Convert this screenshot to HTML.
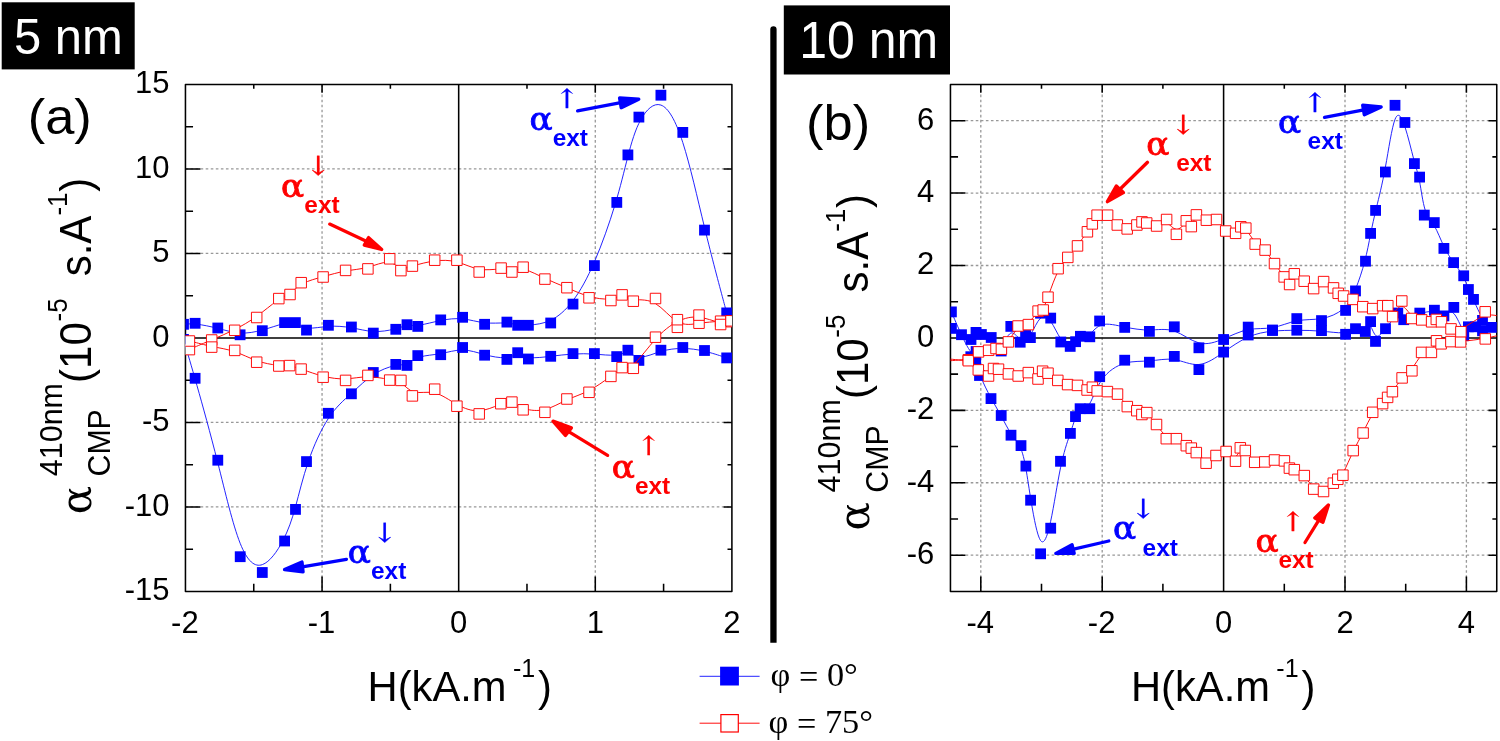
<!DOCTYPE html><html><head><meta charset="utf-8"><title>Figure</title><style>html,body{margin:0;padding:0;background:#fff}body{width:1500px;height:741px;overflow:hidden}svg{display:block}</style></head><body><svg width="1500" height="741" viewBox="0 0 1500 741"><rect width="1500" height="741" fill="#fff"/><clipPath id="cl"><rect x="185.45" y="84.45" width="546.45" height="506.95"/></clipPath><path d="M322.06 84.45V591.4M595.29 84.45V591.4M185.45 506.91H731.9M185.45 422.42H731.9M185.45 253.43H731.9M185.45 168.94H731.9" fill="none" stroke="#989898" stroke-width="1.3" stroke-dasharray="2.6 2.46"/><path d="M458.68 84.45V591.4M185.45 337.92H731.9" fill="none" stroke="#000" stroke-width="1.55"/><path d="M322.06 591.4v-15M322.06 84.45v8.3M595.29 591.4v-15M595.29 84.45v8.3M253.76 591.4v-7.6M253.76 84.45v4.4M390.37 591.4v-7.6M390.37 84.45v4.4M526.98 591.4v-7.6M526.98 84.45v4.4M663.59 591.4v-7.6M663.59 84.45v4.4M185.45 506.91h15M731.9 506.91h-8.3M185.45 422.42h15M731.9 422.42h-8.3M185.45 253.43h15M731.9 253.43h-8.3M185.45 168.94h15M731.9 168.94h-8.3M185.45 549.15h7.6M731.9 549.15h-4.4M185.45 464.66h7.6M731.9 464.66h-4.4M185.45 380.17h7.6M731.9 380.17h-4.4M185.45 295.68h7.6M731.9 295.68h-4.4M185.45 211.19h7.6M731.9 211.19h-4.4M185.45 126.7h7.6M731.9 126.7h-4.4" fill="none" stroke="#000" stroke-width="1.55"/><rect x="185.45" y="84.45" width="546.45" height="506.95" fill="none" stroke="#000" stroke-width="1.55" stroke-linejoin="round"/><g clip-path="url(#cl)"><path d="M183.5 339.4C183.5 339.4 183.5 339.4 185.43 345.88C187.37 352.37 191.23 365.33 196.95 385.47C202.67 405.6 210.23 432.9 217.75 462.63C225.27 492.37 232.73 524.53 240.15 543.25C247.57 561.97 254.93 567.23 262.33 564.62C269.73 562 277.17 551.5 282.7 540.98C288.23 530.47 291.87 519.93 295.52 506.7C299.17 493.47 302.83 477.53 308.32 461.52C313.8 445.5 321.1 429.4 328.58 418.1C336.07 406.8 343.73 400.3 351.22 393.5C358.7 386.7 366 379.6 373.4 374.7C380.8 369.8 388.3 367.1 393.92 365.92C399.53 364.73 403.27 365.07 406.93 363.6C410.6 362.13 414.2 358.87 419.82 357.08C425.43 355.3 433.07 355 440.53 353.65C448 352.3 455.3 349.9 462.62 349.98C469.93 350.07 477.27 352.63 484.65 354.62C492.03 356.6 499.47 358 504.98 357.58C510.5 357.17 514.1 354.93 517.68 354.87C521.27 354.8 524.83 356.9 530.33 357.5C535.83 358.1 543.27 357.2 550.7 356.3C558.13 355.4 565.57 354.5 572.85 354.05C580.13 353.6 587.27 353.6 594.55 354.1C601.83 354.6 609.27 355.6 614.85 355.03C620.43 354.47 624.17 352.33 627.87 352.97C631.57 353.6 635.23 357 640.73 357C646.23 357 653.57 353.6 660.88 351.45C668.2 349.3 675.5 348.4 682.77 348.45C690.03 348.5 697.27 349.5 704.58 351.23C711.9 352.97 719.3 355.43 723 356.67C726.7 357.9 726.7 357.9 726.7 357.9" fill="none" stroke="#1818ff" stroke-width="0.95"/><path d="M183.5 324.3C183.5 324.3 183.5 324.3 185.43 324.13C187.37 323.97 191.23 323.63 196.95 324.25C202.67 324.87 210.23 326.43 217.73 328.35C225.23 330.27 232.67 332.53 240.08 332.98C247.5 333.43 254.9 332.07 262.32 330.03C269.73 328 277.17 325.3 282.68 323.95C288.2 322.6 291.8 322.6 295.45 323.85C299.1 325.1 302.8 327.6 308.3 328.05C313.8 328.5 321.1 326.9 328.58 326.38C336.07 325.87 343.73 326.43 351.22 327.73C358.7 329.03 366 331.07 373.4 331.45C380.8 331.83 388.3 330.57 393.92 329.17C399.53 327.77 403.27 326.23 406.93 325.75C410.6 325.27 414.2 325.83 419.82 325.03C425.43 324.23 433.07 322.07 440.53 320.55C448 319.03 455.3 318.17 462.62 318.9C469.93 319.63 477.27 321.97 484.65 322.77C492.03 323.57 499.47 322.83 504.98 323C510.5 323.17 514.1 324.23 517.68 324.77C521.27 325.3 524.83 325.3 530.33 324.92C535.83 324.53 543.27 323.77 550.7 320.23C558.13 316.7 565.57 310.4 572.85 300.83C580.13 291.27 587.27 278.43 594.57 261.48C601.87 244.53 609.33 223.47 614.92 205.02C620.5 186.57 624.2 170.73 627.88 156.52C631.57 142.3 635.23 129.7 640.73 119.75C646.23 109.8 653.57 102.5 660.88 105.05C668.2 107.6 675.5 120 682.77 142.48C690.03 164.97 697.27 197.53 704.58 227.62C711.9 257.7 719.3 285.3 723 299.1C726.7 312.9 726.7 312.9 726.7 312.9" fill="none" stroke="#1818ff" stroke-width="0.95"/><rect x="178.1" y="334" width="10.8" height="10.8" fill="#0000ff"/><rect x="189.7" y="372.9" width="10.8" height="10.8" fill="#0000ff"/><rect x="212.4" y="454.8" width="10.8" height="10.8" fill="#0000ff"/><rect x="234.8" y="551.3" width="10.8" height="10.8" fill="#0000ff"/><rect x="256.9" y="567.1" width="10.8" height="10.8" fill="#0000ff"/><rect x="279.2" y="535.6" width="10.8" height="10.8" fill="#0000ff"/><rect x="290.1" y="504" width="10.8" height="10.8" fill="#0000ff"/><rect x="301.1" y="456.2" width="10.8" height="10.8" fill="#0000ff"/><rect x="323" y="407.9" width="10.8" height="10.8" fill="#0000ff"/><rect x="346" y="388.4" width="10.8" height="10.8" fill="#0000ff"/><rect x="367.9" y="367.1" width="10.8" height="10.8" fill="#0000ff"/><rect x="390.4" y="359" width="10.8" height="10.8" fill="#0000ff"/><rect x="401.6" y="360" width="10.8" height="10.8" fill="#0000ff"/><rect x="412.4" y="350.2" width="10.8" height="10.8" fill="#0000ff"/><rect x="435.3" y="349.3" width="10.8" height="10.8" fill="#0000ff"/><rect x="457.2" y="342.1" width="10.8" height="10.8" fill="#0000ff"/><rect x="479.2" y="349.8" width="10.8" height="10.8" fill="#0000ff"/><rect x="501.5" y="354" width="10.8" height="10.8" fill="#0000ff"/><rect x="512.3" y="347.3" width="10.8" height="10.8" fill="#0000ff"/><rect x="523" y="353.6" width="10.8" height="10.8" fill="#0000ff"/><rect x="545.3" y="350.9" width="10.8" height="10.8" fill="#0000ff"/><rect x="567.6" y="348.2" width="10.8" height="10.8" fill="#0000ff"/><rect x="589" y="348.2" width="10.8" height="10.8" fill="#0000ff"/><rect x="611.3" y="351.2" width="10.8" height="10.8" fill="#0000ff"/><rect x="622.5" y="344.8" width="10.8" height="10.8" fill="#0000ff"/><rect x="633.5" y="355" width="10.8" height="10.8" fill="#0000ff"/><rect x="655.5" y="344.8" width="10.8" height="10.8" fill="#0000ff"/><rect x="677.4" y="342.1" width="10.8" height="10.8" fill="#0000ff"/><rect x="699.1" y="345.1" width="10.8" height="10.8" fill="#0000ff"/><rect x="721.3" y="352.5" width="10.8" height="10.8" fill="#0000ff"/><rect x="178.1" y="318.9" width="10.8" height="10.8" fill="#0000ff"/><rect x="189.7" y="317.9" width="10.8" height="10.8" fill="#0000ff"/><rect x="212.4" y="322.6" width="10.8" height="10.8" fill="#0000ff"/><rect x="234.7" y="329.4" width="10.8" height="10.8" fill="#0000ff"/><rect x="256.9" y="325.3" width="10.8" height="10.8" fill="#0000ff"/><rect x="279.2" y="317.2" width="10.8" height="10.8" fill="#0000ff"/><rect x="290" y="317.2" width="10.8" height="10.8" fill="#0000ff"/><rect x="301.1" y="324.7" width="10.8" height="10.8" fill="#0000ff"/><rect x="323" y="319.9" width="10.8" height="10.8" fill="#0000ff"/><rect x="346" y="321.6" width="10.8" height="10.8" fill="#0000ff"/><rect x="367.9" y="327.7" width="10.8" height="10.8" fill="#0000ff"/><rect x="390.4" y="323.9" width="10.8" height="10.8" fill="#0000ff"/><rect x="401.6" y="319.3" width="10.8" height="10.8" fill="#0000ff"/><rect x="412.4" y="321" width="10.8" height="10.8" fill="#0000ff"/><rect x="435.3" y="314.5" width="10.8" height="10.8" fill="#0000ff"/><rect x="457.2" y="311.9" width="10.8" height="10.8" fill="#0000ff"/><rect x="479.2" y="318.9" width="10.8" height="10.8" fill="#0000ff"/><rect x="501.5" y="316.7" width="10.8" height="10.8" fill="#0000ff"/><rect x="512.3" y="319.9" width="10.8" height="10.8" fill="#0000ff"/><rect x="523" y="319.9" width="10.8" height="10.8" fill="#0000ff"/><rect x="545.3" y="317.6" width="10.8" height="10.8" fill="#0000ff"/><rect x="567.6" y="298.7" width="10.8" height="10.8" fill="#0000ff"/><rect x="589" y="260.2" width="10.8" height="10.8" fill="#0000ff"/><rect x="611.4" y="197" width="10.8" height="10.8" fill="#0000ff"/><rect x="622.5" y="149.5" width="10.8" height="10.8" fill="#0000ff"/><rect x="633.5" y="111.7" width="10.8" height="10.8" fill="#0000ff"/><rect x="655.5" y="89.8" width="10.8" height="10.8" fill="#0000ff"/><rect x="677.4" y="127" width="10.8" height="10.8" fill="#0000ff"/><rect x="699.1" y="224.7" width="10.8" height="10.8" fill="#0000ff"/><rect x="721.3" y="307.5" width="10.8" height="10.8" fill="#0000ff"/></g><g clip-path="url(#cl)"><path d="M189.4 349.4C189.4 349.4 189.4 349.4 193.12 347.8C196.83 346.2 204.27 343 211.82 339.78C219.37 336.57 227.03 333.33 234.53 329.58C242.03 325.83 249.37 321.57 256.72 316.28C264.07 311 271.43 304.7 276.98 300.87C282.53 297.03 286.27 295.67 290 293.02C293.73 290.37 297.47 286.43 302.98 283.52C308.5 280.6 315.8 278.7 323.2 276.65C330.6 274.6 338.1 272.4 345.57 271.05C353.03 269.7 360.47 269.2 367.82 267.27C375.17 265.33 382.43 261.97 387.93 262.25C393.43 262.53 397.17 266.47 400.95 267.68C404.73 268.9 408.57 267.4 414.2 265.67C419.83 263.93 427.27 261.97 434.68 260.98C442.1 260 449.5 260 456.92 261.97C464.33 263.93 471.77 267.87 479.13 269.18C486.5 270.5 493.8 269.2 499.25 269.2C504.7 269.2 508.3 270.5 511.97 270.35C515.63 270.2 519.37 268.6 524.87 269.78C530.37 270.97 537.63 274.93 544.93 278.35C552.23 281.77 559.57 284.63 566.92 287.75C574.27 290.87 581.63 294.23 588.97 296.37C596.3 298.5 603.6 299.4 609.12 298.92C614.63 298.43 618.37 296.57 622.1 296.68C625.83 296.8 629.57 298.9 635.13 299.5C640.7 300.1 648.1 299.2 655.45 303.55C662.8 307.9 670.1 317.5 677.35 321.62C684.6 325.73 691.8 324.37 699 323.35C706.2 322.33 713.4 321.67 718.8 321.42C724.2 321.17 727.8 321.33 729.6 321.42C731.4 321.5 731.4 321.5 731.4 321.5" fill="none" stroke="#ff0000" stroke-width="0.95"/><path d="M189.4 340.8C189.4 340.8 189.4 340.8 193.12 341.82C196.83 342.83 204.27 344.87 211.82 346.43C219.37 348 227.03 349.1 234.53 351.62C242.03 354.13 249.37 358.07 256.72 360.67C264.07 363.27 271.43 364.53 276.92 365.1C282.4 365.67 286 365.53 289.72 366.05C293.43 366.57 297.27 367.73 302.85 369.67C308.43 371.6 315.77 374.3 323.18 376.18C330.6 378.07 338.1 379.13 345.57 378.83C353.03 378.53 360.47 376.87 367.82 376.82C375.17 376.77 382.43 378.33 387.93 379.17C393.43 380 397.17 380.1 400.95 382.73C404.73 385.37 408.57 390.53 414.2 392C419.83 393.47 427.27 391.23 434.68 392.95C442.1 394.67 449.5 400.33 456.92 404.45C464.33 408.57 471.77 411.13 479.08 410.72C486.4 410.3 493.6 406.9 499.05 404.93C504.5 402.97 508.2 402.43 511.92 403.45C515.63 404.47 519.37 407.03 524.87 408.73C530.37 410.43 537.63 411.27 544.93 409.47C552.23 407.67 559.57 403.23 566.92 399.9C574.27 396.57 581.63 394.33 588.97 390.57C596.3 386.8 603.6 381.5 609.12 377.38C614.63 373.27 618.37 370.33 622.1 368.98C625.83 367.63 629.57 367.87 635.13 362.8C640.7 357.73 648.1 347.37 655.45 339.27C662.8 331.17 670.1 325.33 677.35 321.65C684.6 317.97 691.8 316.43 699 317.23C706.2 318.03 713.4 321.17 718.73 322.12C724.07 323.07 727.53 321.83 729.27 321.22C731 320.6 731 320.6 731 320.6" fill="none" stroke="#ff0000" stroke-width="0.95"/><rect x="184.15" y="344.35" width="10.5" height="10.5" fill="#fff" stroke="#ff0000" stroke-width="0.95" stroke-linejoin="round"/><rect x="206.45" y="334.75" width="10.5" height="10.5" fill="#fff" stroke="#ff0000" stroke-width="0.95" stroke-linejoin="round"/><rect x="229.45" y="325.05" width="10.5" height="10.5" fill="#fff" stroke="#ff0000" stroke-width="0.95" stroke-linejoin="round"/><rect x="251.45" y="312.25" width="10.5" height="10.5" fill="#fff" stroke="#ff0000" stroke-width="0.95" stroke-linejoin="round"/><rect x="273.55" y="293.35" width="10.5" height="10.5" fill="#fff" stroke="#ff0000" stroke-width="0.95" stroke-linejoin="round"/><rect x="284.75" y="289.25" width="10.5" height="10.5" fill="#fff" stroke="#ff0000" stroke-width="0.95" stroke-linejoin="round"/><rect x="295.95" y="277.45" width="10.5" height="10.5" fill="#fff" stroke="#ff0000" stroke-width="0.95" stroke-linejoin="round"/><rect x="317.85" y="271.75" width="10.5" height="10.5" fill="#fff" stroke="#ff0000" stroke-width="0.95" stroke-linejoin="round"/><rect x="340.35" y="265.15" width="10.5" height="10.5" fill="#fff" stroke="#ff0000" stroke-width="0.95" stroke-linejoin="round"/><rect x="362.65" y="263.65" width="10.5" height="10.5" fill="#fff" stroke="#ff0000" stroke-width="0.95" stroke-linejoin="round"/><rect x="384.45" y="253.55" width="10.5" height="10.5" fill="#fff" stroke="#ff0000" stroke-width="0.95" stroke-linejoin="round"/><rect x="395.65" y="265.35" width="10.5" height="10.5" fill="#fff" stroke="#ff0000" stroke-width="0.95" stroke-linejoin="round"/><rect x="407.15" y="260.85" width="10.5" height="10.5" fill="#fff" stroke="#ff0000" stroke-width="0.95" stroke-linejoin="round"/><rect x="429.45" y="254.95" width="10.5" height="10.5" fill="#fff" stroke="#ff0000" stroke-width="0.95" stroke-linejoin="round"/><rect x="451.65" y="254.95" width="10.5" height="10.5" fill="#fff" stroke="#ff0000" stroke-width="0.95" stroke-linejoin="round"/><rect x="473.95" y="266.75" width="10.5" height="10.5" fill="#fff" stroke="#ff0000" stroke-width="0.95" stroke-linejoin="round"/><rect x="495.85" y="262.85" width="10.5" height="10.5" fill="#fff" stroke="#ff0000" stroke-width="0.95" stroke-linejoin="round"/><rect x="506.65" y="266.75" width="10.5" height="10.5" fill="#fff" stroke="#ff0000" stroke-width="0.95" stroke-linejoin="round"/><rect x="517.85" y="261.95" width="10.5" height="10.5" fill="#fff" stroke="#ff0000" stroke-width="0.95" stroke-linejoin="round"/><rect x="539.65" y="273.85" width="10.5" height="10.5" fill="#fff" stroke="#ff0000" stroke-width="0.95" stroke-linejoin="round"/><rect x="561.65" y="282.45" width="10.5" height="10.5" fill="#fff" stroke="#ff0000" stroke-width="0.95" stroke-linejoin="round"/><rect x="583.75" y="292.55" width="10.5" height="10.5" fill="#fff" stroke="#ff0000" stroke-width="0.95" stroke-linejoin="round"/><rect x="605.65" y="295.25" width="10.5" height="10.5" fill="#fff" stroke="#ff0000" stroke-width="0.95" stroke-linejoin="round"/><rect x="616.85" y="289.65" width="10.5" height="10.5" fill="#fff" stroke="#ff0000" stroke-width="0.95" stroke-linejoin="round"/><rect x="628.05" y="295.95" width="10.5" height="10.5" fill="#fff" stroke="#ff0000" stroke-width="0.95" stroke-linejoin="round"/><rect x="650.25" y="293.25" width="10.5" height="10.5" fill="#fff" stroke="#ff0000" stroke-width="0.95" stroke-linejoin="round"/><rect x="672.15" y="322.05" width="10.5" height="10.5" fill="#fff" stroke="#ff0000" stroke-width="0.95" stroke-linejoin="round"/><rect x="693.75" y="317.95" width="10.5" height="10.5" fill="#fff" stroke="#ff0000" stroke-width="0.95" stroke-linejoin="round"/><rect x="715.35" y="315.95" width="10.5" height="10.5" fill="#fff" stroke="#ff0000" stroke-width="0.95" stroke-linejoin="round"/><rect x="726.15" y="316.45" width="10.5" height="10.5" fill="#fff" stroke="#ff0000" stroke-width="0.95" stroke-linejoin="round"/><rect x="184.15" y="335.75" width="10.5" height="10.5" fill="#fff" stroke="#ff0000" stroke-width="0.95" stroke-linejoin="round"/><rect x="206.45" y="341.85" width="10.5" height="10.5" fill="#fff" stroke="#ff0000" stroke-width="0.95" stroke-linejoin="round"/><rect x="229.45" y="345.15" width="10.5" height="10.5" fill="#fff" stroke="#ff0000" stroke-width="0.95" stroke-linejoin="round"/><rect x="251.45" y="356.95" width="10.5" height="10.5" fill="#fff" stroke="#ff0000" stroke-width="0.95" stroke-linejoin="round"/><rect x="273.55" y="360.75" width="10.5" height="10.5" fill="#fff" stroke="#ff0000" stroke-width="0.95" stroke-linejoin="round"/><rect x="284.35" y="360.35" width="10.5" height="10.5" fill="#fff" stroke="#ff0000" stroke-width="0.95" stroke-linejoin="round"/><rect x="295.85" y="363.85" width="10.5" height="10.5" fill="#fff" stroke="#ff0000" stroke-width="0.95" stroke-linejoin="round"/><rect x="317.85" y="371.95" width="10.5" height="10.5" fill="#fff" stroke="#ff0000" stroke-width="0.95" stroke-linejoin="round"/><rect x="340.35" y="375.15" width="10.5" height="10.5" fill="#fff" stroke="#ff0000" stroke-width="0.95" stroke-linejoin="round"/><rect x="362.65" y="370.15" width="10.5" height="10.5" fill="#fff" stroke="#ff0000" stroke-width="0.95" stroke-linejoin="round"/><rect x="384.45" y="374.85" width="10.5" height="10.5" fill="#fff" stroke="#ff0000" stroke-width="0.95" stroke-linejoin="round"/><rect x="395.65" y="375.15" width="10.5" height="10.5" fill="#fff" stroke="#ff0000" stroke-width="0.95" stroke-linejoin="round"/><rect x="407.15" y="390.65" width="10.5" height="10.5" fill="#fff" stroke="#ff0000" stroke-width="0.95" stroke-linejoin="round"/><rect x="429.45" y="383.95" width="10.5" height="10.5" fill="#fff" stroke="#ff0000" stroke-width="0.95" stroke-linejoin="round"/><rect x="451.65" y="400.95" width="10.5" height="10.5" fill="#fff" stroke="#ff0000" stroke-width="0.95" stroke-linejoin="round"/><rect x="473.95" y="408.65" width="10.5" height="10.5" fill="#fff" stroke="#ff0000" stroke-width="0.95" stroke-linejoin="round"/><rect x="495.55" y="398.45" width="10.5" height="10.5" fill="#fff" stroke="#ff0000" stroke-width="0.95" stroke-linejoin="round"/><rect x="506.65" y="396.85" width="10.5" height="10.5" fill="#fff" stroke="#ff0000" stroke-width="0.95" stroke-linejoin="round"/><rect x="517.85" y="404.55" width="10.5" height="10.5" fill="#fff" stroke="#ff0000" stroke-width="0.95" stroke-linejoin="round"/><rect x="539.65" y="407.05" width="10.5" height="10.5" fill="#fff" stroke="#ff0000" stroke-width="0.95" stroke-linejoin="round"/><rect x="561.65" y="393.75" width="10.5" height="10.5" fill="#fff" stroke="#ff0000" stroke-width="0.95" stroke-linejoin="round"/><rect x="583.75" y="387.05" width="10.5" height="10.5" fill="#fff" stroke="#ff0000" stroke-width="0.95" stroke-linejoin="round"/><rect x="605.65" y="371.15" width="10.5" height="10.5" fill="#fff" stroke="#ff0000" stroke-width="0.95" stroke-linejoin="round"/><rect x="616.85" y="362.35" width="10.5" height="10.5" fill="#fff" stroke="#ff0000" stroke-width="0.95" stroke-linejoin="round"/><rect x="628.05" y="363.05" width="10.5" height="10.5" fill="#fff" stroke="#ff0000" stroke-width="0.95" stroke-linejoin="round"/><rect x="650.25" y="331.95" width="10.5" height="10.5" fill="#fff" stroke="#ff0000" stroke-width="0.95" stroke-linejoin="round"/><rect x="672.15" y="314.45" width="10.5" height="10.5" fill="#fff" stroke="#ff0000" stroke-width="0.95" stroke-linejoin="round"/><rect x="693.75" y="309.85" width="10.5" height="10.5" fill="#fff" stroke="#ff0000" stroke-width="0.95" stroke-linejoin="round"/><rect x="715.35" y="319.25" width="10.5" height="10.5" fill="#fff" stroke="#ff0000" stroke-width="0.95" stroke-linejoin="round"/><rect x="725.75" y="315.55" width="10.5" height="10.5" fill="#fff" stroke="#ff0000" stroke-width="0.95" stroke-linejoin="round"/></g><clipPath id="cr"><rect x="950.45" y="84.45" width="546.3" height="506.95"/></clipPath><path d="M980.8 84.45V591.4M1102.2 84.45V591.4M1345 84.45V591.4M1466.4 84.45V591.4M950.45 555.19H1496.75M950.45 482.77H1496.75M950.45 410.35H1496.75M950.45 265.5H1496.75M950.45 193.08H1496.75M950.45 120.66H1496.75" fill="none" stroke="#989898" stroke-width="1.3" stroke-dasharray="2.6 2.46"/><path d="M1223.6 84.45V591.4M950.45 337.93H1496.75" fill="none" stroke="#000" stroke-width="1.55"/><path d="M980.8 591.4v-15M980.8 84.45v8.3M1102.2 591.4v-15M1102.2 84.45v8.3M1345 591.4v-15M1345 84.45v8.3M1466.4 591.4v-15M1466.4 84.45v8.3M1041.5 591.4v-7.6M1041.5 84.45v4.4M1162.9 591.4v-7.6M1162.9 84.45v4.4M1284.3 591.4v-7.6M1284.3 84.45v4.4M1405.7 591.4v-7.6M1405.7 84.45v4.4M950.45 555.19h15M1496.75 555.19h-8.3M950.45 482.77h15M1496.75 482.77h-8.3M950.45 410.35h15M1496.75 410.35h-8.3M950.45 265.5h15M1496.75 265.5h-8.3M950.45 193.08h15M1496.75 193.08h-8.3M950.45 120.66h15M1496.75 120.66h-8.3M950.45 518.98h7.6M1496.75 518.98h-4.4M950.45 446.56h7.6M1496.75 446.56h-4.4M950.45 374.14h7.6M1496.75 374.14h-4.4M950.45 301.71h7.6M1496.75 301.71h-4.4M950.45 229.29h7.6M1496.75 229.29h-4.4M950.45 156.87h7.6M1496.75 156.87h-4.4" fill="none" stroke="#000" stroke-width="1.55"/><rect x="950.45" y="84.45" width="546.3" height="506.95" fill="none" stroke="#000" stroke-width="1.55" stroke-linejoin="round"/><g clip-path="url(#cr)"><path d="M951.4 311.9C951.4 311.9 951.4 311.9 954.63 319.37C957.87 326.83 964.33 341.77 968.45 348.37C972.57 354.97 974.33 353.23 975.15 353.82C975.97 354.4 975.83 357.3 976.4 361.3C976.97 365.3 978.23 370.4 980.78 376.8C983.33 383.2 987.17 390.9 990.78 397.57C994.4 404.23 997.8 409.87 1001.13 415.97C1004.47 422.07 1007.73 428.63 1011.03 433.65C1014.33 438.67 1017.67 442.13 1020.15 447.28C1022.63 452.43 1024.27 459.27 1025.87 468.37C1027.47 477.47 1029.03 488.83 1031.48 503.45C1033.93 518.07 1037.27 535.93 1040.62 540.6C1043.97 545.27 1047.33 536.73 1050.65 521.32C1053.97 505.9 1057.23 483.6 1060.52 467.8C1063.8 452 1067.1 442.7 1069.6 435.25C1072.1 427.8 1073.8 422.2 1075.42 418.08C1077.03 413.97 1078.57 411.33 1080.95 410.02C1083.33 408.7 1086.57 408.7 1089.83 403.37C1093.1 398.03 1096.4 387.37 1102.22 379.28C1108.03 371.2 1116.37 365.7 1124.65 363.28C1132.93 360.87 1141.17 361.53 1149.43 360.9C1157.7 360.27 1166 358.33 1174.25 359.57C1182.5 360.8 1190.7 365.2 1198.92 364.48C1207.13 363.77 1215.37 357.93 1223.58 352.17C1231.8 346.4 1240 340.7 1248.15 337.1C1256.3 333.5 1264.4 332 1272.5 331.2C1280.6 330.4 1288.7 330.3 1296.87 330.32C1305.03 330.33 1313.27 330.47 1321.4 331.15C1329.53 331.83 1337.57 333.07 1343.23 332.75C1348.9 332.43 1352.2 330.57 1355.48 330.1C1358.77 329.63 1362.03 330.57 1364.55 329.38C1367.07 328.2 1368.83 324.9 1370.53 326.55C1372.23 328.2 1373.87 334.8 1376.35 335.98C1378.83 337.17 1382.17 332.93 1385.88 328.2C1389.6 323.47 1393.7 318.23 1396.73 316.73C1399.77 315.23 1401.73 317.47 1405.4 317.48C1409.07 317.5 1414.43 315.3 1419.55 313.72C1424.67 312.13 1429.53 311.17 1433.55 311.63C1437.57 312.1 1440.73 314 1443.97 313.53C1447.2 313.07 1450.5 310.23 1453.82 313.53C1457.13 316.83 1460.47 326.27 1462.9 329.5C1465.33 332.73 1466.87 329.77 1468.82 328.28C1470.77 326.8 1473.13 326.8 1475.48 327.47C1477.83 328.13 1480.17 329.47 1481.33 330.13C1482.5 330.8 1482.5 330.8 1482.5 330.8" fill="none" stroke="#1818ff" stroke-width="0.95"/><path d="M951.4 328.4C951.4 328.4 951.4 328.4 953.08 329.45C954.77 330.5 958.13 332.6 961.4 334.45C964.67 336.3 967.83 337.9 970.25 337.52C972.67 337.13 974.33 334.77 976.07 333.93C977.8 333.1 979.6 333.8 982.13 334.65C984.67 335.5 987.93 336.5 991.23 339.25C994.53 342 997.87 346.5 1001.13 344.65C1004.4 342.8 1007.6 334.6 1010.77 333.13C1013.93 331.67 1017.07 336.93 1019.53 338.45C1022 339.97 1023.8 337.73 1025.5 336.97C1027.2 336.2 1028.8 336.9 1031.28 333.18C1033.77 329.47 1037.13 321.33 1040.52 318.08C1043.9 314.83 1047.3 316.47 1050.68 321.27C1054.07 326.07 1057.43 334.03 1060.68 338.75C1063.93 343.47 1067.07 344.93 1069.53 344.88C1072 344.83 1073.8 343.27 1075.5 341.58C1077.2 339.9 1078.8 338.1 1081.17 337.28C1083.53 336.47 1086.67 336.63 1089.87 334.08C1093.07 331.53 1096.33 326.27 1102.15 324.7C1107.97 323.13 1116.33 325.27 1124.63 327C1132.93 328.73 1141.17 330.07 1149.43 329.97C1157.7 329.87 1166 328.33 1174.25 331.07C1182.5 333.8 1190.7 340.8 1198.92 342.92C1207.13 345.03 1215.37 342.27 1223.58 338.82C1231.8 335.37 1240 331.23 1248.15 329.65C1256.3 328.07 1264.4 329.03 1272.5 327.62C1280.6 326.2 1288.7 322.4 1296.87 320.83C1305.03 319.27 1313.27 319.93 1321.4 318.57C1329.53 317.2 1337.57 313.8 1343.23 308.85C1348.9 303.9 1352.2 297.4 1355.52 289.2C1358.83 281 1362.17 271.1 1364.68 261.52C1367.2 251.93 1368.9 242.67 1370.58 234.2C1372.27 225.73 1373.93 218.07 1376.4 207.83C1378.87 197.6 1382.13 184.8 1385.37 167.28C1388.6 149.77 1391.8 127.53 1395.05 119.28C1398.3 111.03 1401.6 116.77 1404.83 126.48C1408.07 136.2 1411.23 149.9 1413.68 159C1416.13 168.1 1417.87 172.6 1419.52 181.18C1421.17 189.77 1422.73 202.43 1425.18 210.02C1427.63 217.6 1430.97 220.1 1434.23 225.65C1437.5 231.2 1440.7 239.8 1443.92 246.47C1447.13 253.13 1450.37 257.87 1453.67 262.43C1456.97 267 1460.33 271.4 1462.8 275.88C1465.27 280.37 1466.83 284.93 1468.47 288.87C1470.1 292.8 1471.8 296.1 1474.15 301.25C1476.5 306.4 1479.5 313.4 1482.52 318.07C1485.53 322.73 1488.57 325.07 1490.08 326.23C1491.6 327.4 1491.6 327.4 1491.6 327.4" fill="none" stroke="#1818ff" stroke-width="0.95"/><rect x="946" y="306.5" width="10.8" height="10.8" fill="#0000ff"/><rect x="965.4" y="351.3" width="10.8" height="10.8" fill="#0000ff"/><rect x="970.7" y="346.1" width="10.8" height="10.8" fill="#0000ff"/><rect x="970.3" y="354.8" width="10.8" height="10.8" fill="#0000ff"/><rect x="974.1" y="370.1" width="10.8" height="10.8" fill="#0000ff"/><rect x="985.6" y="393.2" width="10.8" height="10.8" fill="#0000ff"/><rect x="995.8" y="410.1" width="10.8" height="10.8" fill="#0000ff"/><rect x="1005.6" y="429.8" width="10.8" height="10.8" fill="#0000ff"/><rect x="1015.6" y="440.2" width="10.8" height="10.8" fill="#0000ff"/><rect x="1020.5" y="460.7" width="10.8" height="10.8" fill="#0000ff"/><rect x="1025.2" y="494.8" width="10.8" height="10.8" fill="#0000ff"/><rect x="1035.2" y="548.4" width="10.8" height="10.8" fill="#0000ff"/><rect x="1045.3" y="522.8" width="10.8" height="10.8" fill="#0000ff"/><rect x="1055.1" y="455.9" width="10.8" height="10.8" fill="#0000ff"/><rect x="1065" y="428" width="10.8" height="10.8" fill="#0000ff"/><rect x="1070.1" y="411.2" width="10.8" height="10.8" fill="#0000ff"/><rect x="1074.7" y="403.3" width="10.8" height="10.8" fill="#0000ff"/><rect x="1084.4" y="403.3" width="10.8" height="10.8" fill="#0000ff"/><rect x="1094.3" y="371.3" width="10.8" height="10.8" fill="#0000ff"/><rect x="1119.3" y="354.8" width="10.8" height="10.8" fill="#0000ff"/><rect x="1144" y="356.8" width="10.8" height="10.8" fill="#0000ff"/><rect x="1168.9" y="351" width="10.8" height="10.8" fill="#0000ff"/><rect x="1193.5" y="364.2" width="10.8" height="10.8" fill="#0000ff"/><rect x="1218.2" y="346.7" width="10.8" height="10.8" fill="#0000ff"/><rect x="1242.8" y="329.6" width="10.8" height="10.8" fill="#0000ff"/><rect x="1267.1" y="325.1" width="10.8" height="10.8" fill="#0000ff"/><rect x="1291.4" y="324.8" width="10.8" height="10.8" fill="#0000ff"/><rect x="1316.1" y="325.2" width="10.8" height="10.8" fill="#0000ff"/><rect x="1340.2" y="328.9" width="10.8" height="10.8" fill="#0000ff"/><rect x="1350.1" y="323.3" width="10.8" height="10.8" fill="#0000ff"/><rect x="1359.9" y="326.1" width="10.8" height="10.8" fill="#0000ff"/><rect x="1365.2" y="316.2" width="10.8" height="10.8" fill="#0000ff"/><rect x="1370.1" y="336" width="10.8" height="10.8" fill="#0000ff"/><rect x="1380.1" y="323.3" width="10.8" height="10.8" fill="#0000ff"/><rect x="1392.4" y="307.6" width="10.8" height="10.8" fill="#0000ff"/><rect x="1398.3" y="314.3" width="10.8" height="10.8" fill="#0000ff"/><rect x="1414.4" y="307.7" width="10.8" height="10.8" fill="#0000ff"/><rect x="1429" y="304.8" width="10.8" height="10.8" fill="#0000ff"/><rect x="1438.5" y="310.5" width="10.8" height="10.8" fill="#0000ff"/><rect x="1448.4" y="302" width="10.8" height="10.8" fill="#0000ff"/><rect x="1458.4" y="330.3" width="10.8" height="10.8" fill="#0000ff"/><rect x="1463" y="321.4" width="10.8" height="10.8" fill="#0000ff"/><rect x="1470.1" y="321.4" width="10.8" height="10.8" fill="#0000ff"/><rect x="1477.1" y="325.4" width="10.8" height="10.8" fill="#0000ff"/><rect x="946" y="323" width="10.8" height="10.8" fill="#0000ff"/><rect x="956.1" y="329.3" width="10.8" height="10.8" fill="#0000ff"/><rect x="965.6" y="334.1" width="10.8" height="10.8" fill="#0000ff"/><rect x="970.6" y="327" width="10.8" height="10.8" fill="#0000ff"/><rect x="976" y="329.1" width="10.8" height="10.8" fill="#0000ff"/><rect x="985.8" y="332.1" width="10.8" height="10.8" fill="#0000ff"/><rect x="995.8" y="345.6" width="10.8" height="10.8" fill="#0000ff"/><rect x="1005.4" y="321" width="10.8" height="10.8" fill="#0000ff"/><rect x="1014.8" y="336.8" width="10.8" height="10.8" fill="#0000ff"/><rect x="1020.2" y="330.1" width="10.8" height="10.8" fill="#0000ff"/><rect x="1025" y="332.2" width="10.8" height="10.8" fill="#0000ff"/><rect x="1035.1" y="307.8" width="10.8" height="10.8" fill="#0000ff"/><rect x="1045.3" y="312.7" width="10.8" height="10.8" fill="#0000ff"/><rect x="1055.4" y="336.6" width="10.8" height="10.8" fill="#0000ff"/><rect x="1064.8" y="341" width="10.8" height="10.8" fill="#0000ff"/><rect x="1070.2" y="336.3" width="10.8" height="10.8" fill="#0000ff"/><rect x="1075" y="330.9" width="10.8" height="10.8" fill="#0000ff"/><rect x="1084.4" y="331.4" width="10.8" height="10.8" fill="#0000ff"/><rect x="1094.2" y="315.6" width="10.8" height="10.8" fill="#0000ff"/><rect x="1119.3" y="322" width="10.8" height="10.8" fill="#0000ff"/><rect x="1144" y="326" width="10.8" height="10.8" fill="#0000ff"/><rect x="1168.9" y="321.4" width="10.8" height="10.8" fill="#0000ff"/><rect x="1193.5" y="342.4" width="10.8" height="10.8" fill="#0000ff"/><rect x="1218.2" y="334.1" width="10.8" height="10.8" fill="#0000ff"/><rect x="1242.8" y="321.7" width="10.8" height="10.8" fill="#0000ff"/><rect x="1267.1" y="324.6" width="10.8" height="10.8" fill="#0000ff"/><rect x="1291.4" y="313.2" width="10.8" height="10.8" fill="#0000ff"/><rect x="1316.1" y="315.2" width="10.8" height="10.8" fill="#0000ff"/><rect x="1340.2" y="305" width="10.8" height="10.8" fill="#0000ff"/><rect x="1350.1" y="285.5" width="10.8" height="10.8" fill="#0000ff"/><rect x="1360.1" y="255.8" width="10.8" height="10.8" fill="#0000ff"/><rect x="1365.2" y="228" width="10.8" height="10.8" fill="#0000ff"/><rect x="1370.2" y="205" width="10.8" height="10.8" fill="#0000ff"/><rect x="1380" y="166.6" width="10.8" height="10.8" fill="#0000ff"/><rect x="1389.6" y="99.9" width="10.8" height="10.8" fill="#0000ff"/><rect x="1399.5" y="117.1" width="10.8" height="10.8" fill="#0000ff"/><rect x="1409" y="158.2" width="10.8" height="10.8" fill="#0000ff"/><rect x="1414.2" y="171.7" width="10.8" height="10.8" fill="#0000ff"/><rect x="1418.9" y="209.7" width="10.8" height="10.8" fill="#0000ff"/><rect x="1428.9" y="217.2" width="10.8" height="10.8" fill="#0000ff"/><rect x="1438.5" y="243" width="10.8" height="10.8" fill="#0000ff"/><rect x="1448.2" y="257.2" width="10.8" height="10.8" fill="#0000ff"/><rect x="1458.3" y="270.4" width="10.8" height="10.8" fill="#0000ff"/><rect x="1463" y="284.1" width="10.8" height="10.8" fill="#0000ff"/><rect x="1468.1" y="294" width="10.8" height="10.8" fill="#0000ff"/><rect x="1477.1" y="315" width="10.8" height="10.8" fill="#0000ff"/><rect x="1486.2" y="322" width="10.8" height="10.8" fill="#0000ff"/></g><g clip-path="url(#cr)"><path d="M936 358.6C936 358.6 936 358.6 941.38 358.77C946.77 358.93 957.53 359.27 964.58 361.12C971.63 362.97 974.97 366.33 978.33 369.03C981.7 371.73 985.1 373.77 987.63 373.53C990.17 373.3 991.83 370.8 993.5 369.67C995.17 368.53 996.83 368.77 999.32 369.67C1001.8 370.57 1005.1 372.13 1008.38 373.27C1011.67 374.4 1014.93 375.1 1018.25 374.88C1021.57 374.67 1024.93 373.53 1028.23 374.03C1031.53 374.53 1034.77 376.67 1037.15 376.43C1039.53 376.2 1041.07 373.6 1042.73 372.63C1044.4 371.67 1046.2 372.33 1048.73 373.87C1051.27 375.4 1054.53 377.8 1057.8 379.7C1061.07 381.6 1064.33 383 1067.62 383.83C1070.9 384.67 1074.2 384.93 1077.45 385.83C1080.7 386.73 1083.9 388.27 1086.38 388.57C1088.87 388.87 1090.63 387.93 1092.32 388.08C1094 388.23 1095.6 389.47 1098.1 390.2C1100.6 390.93 1104 391.17 1107.38 391.7C1110.77 392.23 1114.13 393.07 1117.45 395.57C1120.77 398.07 1124.03 402.23 1127.25 405C1130.47 407.77 1133.63 409.13 1136.07 410.45C1138.5 411.77 1140.2 413.03 1141.87 413.35C1143.53 413.67 1145.17 413.03 1147.6 414.7C1150.03 416.37 1153.27 420.33 1156.52 424.68C1159.77 429.03 1163.03 433.77 1166.35 436.13C1169.67 438.5 1173.03 438.5 1176.37 439.67C1179.7 440.83 1183 443.17 1185.48 444.73C1187.97 446.3 1189.63 447.1 1191.3 448.25C1192.97 449.4 1194.63 450.9 1197.1 453.42C1199.57 455.93 1202.83 459.47 1206.12 459.95C1209.4 460.43 1212.7 457.87 1216.03 455.92C1219.37 453.97 1222.73 452.63 1225.98 453.58C1229.23 454.53 1232.37 457.77 1234.73 457.15C1237.1 456.53 1238.7 452.07 1240.33 450.28C1241.97 448.5 1243.63 449.4 1246.03 451.82C1248.43 454.23 1251.57 458.17 1254.82 460.07C1258.07 461.97 1261.43 461.83 1264.73 461.45C1268.03 461.07 1271.27 460.43 1274.53 460.27C1277.8 460.1 1281.1 460.4 1283.58 461.75C1286.07 463.1 1287.73 465.5 1289.38 466.97C1291.03 468.43 1292.67 468.97 1295.15 470.22C1297.63 471.47 1300.97 473.43 1304.2 476.67C1307.43 479.9 1310.57 484.4 1313.77 487.05C1316.97 489.7 1320.23 490.5 1323.5 489.52C1326.77 488.53 1330.03 485.77 1332.42 483.73C1334.8 481.7 1336.3 480.4 1337.9 479.07C1339.5 477.73 1341.2 476.37 1343.77 471.58C1346.33 466.8 1349.77 458.6 1353.13 451.57C1356.5 444.53 1359.8 438.67 1363.05 432.28C1366.3 425.9 1369.5 419 1372.75 414.1C1376 409.2 1379.3 406.3 1381.78 403.82C1384.27 401.33 1385.93 399.27 1387.57 397.28C1389.2 395.3 1390.8 393.4 1393.22 390.15C1395.63 386.9 1398.87 382.3 1402.12 378.82C1405.37 375.33 1408.63 372.97 1411.88 368.72C1415.13 364.47 1418.37 358.33 1421.62 355.27C1424.87 352.2 1428.13 352.2 1430.62 350.27C1433.1 348.33 1434.8 344.47 1436.42 343.03C1438.03 341.6 1439.57 342.6 1441.97 342.73C1444.37 342.87 1447.63 342.13 1450.88 341.82C1454.13 341.5 1457.37 341.6 1463.1 341.15C1468.83 340.7 1477.07 339.7 1484.3 338.42C1491.53 337.13 1497.77 335.57 1500.88 334.78C1504 334 1504 334 1504 334" fill="none" stroke="#ff0000" stroke-width="0.95"/><path d="M936 361C936 361 936 361 941.38 360.92C946.77 360.83 957.53 360.67 964.62 359.12C971.7 357.57 975.1 354.63 978.48 352.9C981.87 351.17 985.23 350.63 988.15 350.07C991.07 349.5 993.53 348.9 995.67 348.72C997.8 348.53 999.6 348.77 1001.67 347.67C1003.73 346.57 1006.07 344.13 1008.83 340.27C1011.6 336.4 1014.8 331.1 1018.13 328.22C1021.47 325.33 1024.93 324.87 1028.28 322.38C1031.63 319.9 1034.87 315.4 1037.33 312.97C1039.8 310.53 1041.5 310.17 1043.15 307.85C1044.8 305.53 1046.4 301.27 1048.88 294.38C1051.37 287.5 1054.73 278 1058.03 271.37C1061.33 264.73 1064.57 260.97 1067.8 257.17C1071.03 253.37 1074.27 249.53 1077.53 245.27C1080.8 241 1084.1 236.3 1086.57 232.63C1089.03 228.97 1090.67 226.33 1092.28 223.57C1093.9 220.8 1095.5 217.9 1098.05 216.45C1100.6 215 1104.1 215 1107.47 216.63C1110.83 218.27 1114.07 221.53 1117.33 223.82C1120.6 226.1 1123.9 227.4 1127.17 227.4C1130.43 227.4 1133.67 226.1 1136.13 224.93C1138.6 223.77 1140.3 222.73 1141.93 222.4C1143.57 222.07 1145.13 222.43 1147.57 223.12C1150 223.8 1153.3 224.8 1156.62 224.22C1159.93 223.63 1163.27 221.47 1166.57 222.85C1169.87 224.23 1173.13 229.17 1176.42 229.38C1179.7 229.6 1183 225.1 1185.48 223.82C1187.97 222.53 1189.63 224.47 1191.32 223.48C1193 222.5 1194.7 218.6 1197.22 217.53C1199.73 216.47 1203.07 218.23 1206.42 219C1209.77 219.77 1213.13 219.53 1216.35 221.33C1219.57 223.13 1222.63 226.97 1225.82 229.27C1229 231.57 1232.3 232.33 1234.82 231.63C1237.33 230.93 1239.07 228.77 1240.77 227.9C1242.47 227.03 1244.13 227.47 1246.53 230.35C1248.93 233.23 1252.07 238.57 1255.28 242.23C1258.5 245.9 1261.8 247.9 1265.02 251.15C1268.23 254.4 1271.37 258.9 1274.55 263.37C1277.73 267.83 1280.97 272.27 1283.48 275.75C1286 279.23 1287.8 281.77 1289.48 281.25C1291.17 280.73 1292.73 277.17 1295.17 276.62C1297.6 276.07 1300.9 278.53 1304.12 281C1307.33 283.47 1310.47 285.93 1313.7 286C1316.93 286.07 1320.27 283.73 1323.58 283.62C1326.9 283.5 1330.2 285.6 1332.63 287.55C1335.07 289.5 1336.63 291.3 1338.32 292.65C1340 294 1341.8 294.9 1344.27 295.92C1346.73 296.93 1349.87 298.07 1353.07 299.85C1356.27 301.63 1359.53 304.07 1362.82 305.6C1366.1 307.13 1369.4 307.77 1372.7 307.6C1376 307.43 1379.3 306.47 1381.82 305.98C1384.33 305.5 1386.07 305.5 1387.73 307.32C1389.4 309.13 1391 312.77 1393.33 311.98C1395.67 311.2 1398.73 306 1401.92 306.32C1405.1 306.63 1408.4 312.47 1411.72 315.62C1415.03 318.77 1418.37 319.23 1421.68 319.78C1425 320.33 1428.3 320.97 1430.73 320.88C1433.17 320.8 1434.73 320 1436.38 320C1438.03 320 1439.77 320.8 1442.22 322.38C1444.67 323.97 1447.83 326.33 1451.07 327.98C1454.3 329.63 1457.6 330.57 1463.3 327.72C1469 324.87 1477.1 318.23 1484.28 315.98C1491.47 313.73 1497.73 315.87 1500.87 316.93C1504 318 1504 318 1504 318" fill="none" stroke="#ff0000" stroke-width="0.95"/><rect x="930.75" y="353.55" width="10.5" height="10.5" fill="#fff" stroke="#ff0000" stroke-width="0.95" stroke-linejoin="round"/><rect x="963.05" y="354.55" width="10.5" height="10.5" fill="#fff" stroke="#ff0000" stroke-width="0.95" stroke-linejoin="round"/><rect x="973.05" y="364.65" width="10.5" height="10.5" fill="#fff" stroke="#ff0000" stroke-width="0.95" stroke-linejoin="round"/><rect x="983.25" y="370.75" width="10.5" height="10.5" fill="#fff" stroke="#ff0000" stroke-width="0.95" stroke-linejoin="round"/><rect x="988.25" y="363.25" width="10.5" height="10.5" fill="#fff" stroke="#ff0000" stroke-width="0.95" stroke-linejoin="round"/><rect x="993.25" y="363.95" width="10.5" height="10.5" fill="#fff" stroke="#ff0000" stroke-width="0.95" stroke-linejoin="round"/><rect x="1003.15" y="368.65" width="10.5" height="10.5" fill="#fff" stroke="#ff0000" stroke-width="0.95" stroke-linejoin="round"/><rect x="1012.95" y="370.75" width="10.5" height="10.5" fill="#fff" stroke="#ff0000" stroke-width="0.95" stroke-linejoin="round"/><rect x="1023.05" y="367.35" width="10.5" height="10.5" fill="#fff" stroke="#ff0000" stroke-width="0.95" stroke-linejoin="round"/><rect x="1032.75" y="373.75" width="10.5" height="10.5" fill="#fff" stroke="#ff0000" stroke-width="0.95" stroke-linejoin="round"/><rect x="1037.35" y="365.95" width="10.5" height="10.5" fill="#fff" stroke="#ff0000" stroke-width="0.95" stroke-linejoin="round"/><rect x="1042.75" y="367.95" width="10.5" height="10.5" fill="#fff" stroke="#ff0000" stroke-width="0.95" stroke-linejoin="round"/><rect x="1052.55" y="375.15" width="10.5" height="10.5" fill="#fff" stroke="#ff0000" stroke-width="0.95" stroke-linejoin="round"/><rect x="1062.35" y="379.35" width="10.5" height="10.5" fill="#fff" stroke="#ff0000" stroke-width="0.95" stroke-linejoin="round"/><rect x="1072.25" y="380.15" width="10.5" height="10.5" fill="#fff" stroke="#ff0000" stroke-width="0.95" stroke-linejoin="round"/><rect x="1081.85" y="384.75" width="10.5" height="10.5" fill="#fff" stroke="#ff0000" stroke-width="0.95" stroke-linejoin="round"/><rect x="1087.15" y="381.95" width="10.5" height="10.5" fill="#fff" stroke="#ff0000" stroke-width="0.95" stroke-linejoin="round"/><rect x="1091.95" y="385.65" width="10.5" height="10.5" fill="#fff" stroke="#ff0000" stroke-width="0.95" stroke-linejoin="round"/><rect x="1102.15" y="386.35" width="10.5" height="10.5" fill="#fff" stroke="#ff0000" stroke-width="0.95" stroke-linejoin="round"/><rect x="1112.25" y="388.85" width="10.5" height="10.5" fill="#fff" stroke="#ff0000" stroke-width="0.95" stroke-linejoin="round"/><rect x="1122.05" y="401.35" width="10.5" height="10.5" fill="#fff" stroke="#ff0000" stroke-width="0.95" stroke-linejoin="round"/><rect x="1131.55" y="405.45" width="10.5" height="10.5" fill="#fff" stroke="#ff0000" stroke-width="0.95" stroke-linejoin="round"/><rect x="1136.65" y="409.25" width="10.5" height="10.5" fill="#fff" stroke="#ff0000" stroke-width="0.95" stroke-linejoin="round"/><rect x="1141.55" y="407.35" width="10.5" height="10.5" fill="#fff" stroke="#ff0000" stroke-width="0.95" stroke-linejoin="round"/><rect x="1151.25" y="419.25" width="10.5" height="10.5" fill="#fff" stroke="#ff0000" stroke-width="0.95" stroke-linejoin="round"/><rect x="1161.05" y="433.45" width="10.5" height="10.5" fill="#fff" stroke="#ff0000" stroke-width="0.95" stroke-linejoin="round"/><rect x="1171.15" y="433.45" width="10.5" height="10.5" fill="#fff" stroke="#ff0000" stroke-width="0.95" stroke-linejoin="round"/><rect x="1181.05" y="440.45" width="10.5" height="10.5" fill="#fff" stroke="#ff0000" stroke-width="0.95" stroke-linejoin="round"/><rect x="1186.05" y="442.85" width="10.5" height="10.5" fill="#fff" stroke="#ff0000" stroke-width="0.95" stroke-linejoin="round"/><rect x="1191.05" y="447.35" width="10.5" height="10.5" fill="#fff" stroke="#ff0000" stroke-width="0.95" stroke-linejoin="round"/><rect x="1200.85" y="457.95" width="10.5" height="10.5" fill="#fff" stroke="#ff0000" stroke-width="0.95" stroke-linejoin="round"/><rect x="1210.75" y="450.25" width="10.5" height="10.5" fill="#fff" stroke="#ff0000" stroke-width="0.95" stroke-linejoin="round"/><rect x="1220.85" y="446.25" width="10.5" height="10.5" fill="#fff" stroke="#ff0000" stroke-width="0.95" stroke-linejoin="round"/><rect x="1230.25" y="455.95" width="10.5" height="10.5" fill="#fff" stroke="#ff0000" stroke-width="0.95" stroke-linejoin="round"/><rect x="1235.05" y="442.55" width="10.5" height="10.5" fill="#fff" stroke="#ff0000" stroke-width="0.95" stroke-linejoin="round"/><rect x="1240.05" y="445.25" width="10.5" height="10.5" fill="#fff" stroke="#ff0000" stroke-width="0.95" stroke-linejoin="round"/><rect x="1249.45" y="457.05" width="10.5" height="10.5" fill="#fff" stroke="#ff0000" stroke-width="0.95" stroke-linejoin="round"/><rect x="1259.55" y="456.65" width="10.5" height="10.5" fill="#fff" stroke="#ff0000" stroke-width="0.95" stroke-linejoin="round"/><rect x="1269.25" y="454.75" width="10.5" height="10.5" fill="#fff" stroke="#ff0000" stroke-width="0.95" stroke-linejoin="round"/><rect x="1279.15" y="455.65" width="10.5" height="10.5" fill="#fff" stroke="#ff0000" stroke-width="0.95" stroke-linejoin="round"/><rect x="1284.15" y="462.85" width="10.5" height="10.5" fill="#fff" stroke="#ff0000" stroke-width="0.95" stroke-linejoin="round"/><rect x="1289.05" y="464.45" width="10.5" height="10.5" fill="#fff" stroke="#ff0000" stroke-width="0.95" stroke-linejoin="round"/><rect x="1299.05" y="470.35" width="10.5" height="10.5" fill="#fff" stroke="#ff0000" stroke-width="0.95" stroke-linejoin="round"/><rect x="1308.45" y="483.85" width="10.5" height="10.5" fill="#fff" stroke="#ff0000" stroke-width="0.95" stroke-linejoin="round"/><rect x="1318.25" y="486.25" width="10.5" height="10.5" fill="#fff" stroke="#ff0000" stroke-width="0.95" stroke-linejoin="round"/><rect x="1328.05" y="477.95" width="10.5" height="10.5" fill="#fff" stroke="#ff0000" stroke-width="0.95" stroke-linejoin="round"/><rect x="1332.55" y="474.05" width="10.5" height="10.5" fill="#fff" stroke="#ff0000" stroke-width="0.95" stroke-linejoin="round"/><rect x="1337.65" y="469.95" width="10.5" height="10.5" fill="#fff" stroke="#ff0000" stroke-width="0.95" stroke-linejoin="round"/><rect x="1347.95" y="445.35" width="10.5" height="10.5" fill="#fff" stroke="#ff0000" stroke-width="0.95" stroke-linejoin="round"/><rect x="1357.85" y="427.75" width="10.5" height="10.5" fill="#fff" stroke="#ff0000" stroke-width="0.95" stroke-linejoin="round"/><rect x="1367.45" y="407.05" width="10.5" height="10.5" fill="#fff" stroke="#ff0000" stroke-width="0.95" stroke-linejoin="round"/><rect x="1377.35" y="398.35" width="10.5" height="10.5" fill="#fff" stroke="#ff0000" stroke-width="0.95" stroke-linejoin="round"/><rect x="1382.35" y="392.15" width="10.5" height="10.5" fill="#fff" stroke="#ff0000" stroke-width="0.95" stroke-linejoin="round"/><rect x="1387.15" y="386.45" width="10.5" height="10.5" fill="#fff" stroke="#ff0000" stroke-width="0.95" stroke-linejoin="round"/><rect x="1396.85" y="372.65" width="10.5" height="10.5" fill="#fff" stroke="#ff0000" stroke-width="0.95" stroke-linejoin="round"/><rect x="1406.65" y="365.55" width="10.5" height="10.5" fill="#fff" stroke="#ff0000" stroke-width="0.95" stroke-linejoin="round"/><rect x="1416.35" y="347.15" width="10.5" height="10.5" fill="#fff" stroke="#ff0000" stroke-width="0.95" stroke-linejoin="round"/><rect x="1426.15" y="347.15" width="10.5" height="10.5" fill="#fff" stroke="#ff0000" stroke-width="0.95" stroke-linejoin="round"/><rect x="1431.25" y="335.55" width="10.5" height="10.5" fill="#fff" stroke="#ff0000" stroke-width="0.95" stroke-linejoin="round"/><rect x="1435.85" y="338.55" width="10.5" height="10.5" fill="#fff" stroke="#ff0000" stroke-width="0.95" stroke-linejoin="round"/><rect x="1445.65" y="336.35" width="10.5" height="10.5" fill="#fff" stroke="#ff0000" stroke-width="0.95" stroke-linejoin="round"/><rect x="1455.35" y="336.65" width="10.5" height="10.5" fill="#fff" stroke="#ff0000" stroke-width="0.95" stroke-linejoin="round"/><rect x="1480.05" y="333.65" width="10.5" height="10.5" fill="#fff" stroke="#ff0000" stroke-width="0.95" stroke-linejoin="round"/><rect x="1498.75" y="328.95" width="10.5" height="10.5" fill="#fff" stroke="#ff0000" stroke-width="0.95" stroke-linejoin="round"/><rect x="930.75" y="355.95" width="10.5" height="10.5" fill="#fff" stroke="#ff0000" stroke-width="0.95" stroke-linejoin="round"/><rect x="963.05" y="355.45" width="10.5" height="10.5" fill="#fff" stroke="#ff0000" stroke-width="0.95" stroke-linejoin="round"/><rect x="973.25" y="346.65" width="10.5" height="10.5" fill="#fff" stroke="#ff0000" stroke-width="0.95" stroke-linejoin="round"/><rect x="983.35" y="345.05" width="10.5" height="10.5" fill="#fff" stroke="#ff0000" stroke-width="0.95" stroke-linejoin="round"/><rect x="990.75" y="343.25" width="10.5" height="10.5" fill="#fff" stroke="#ff0000" stroke-width="0.95" stroke-linejoin="round"/><rect x="996.15" y="343.95" width="10.5" height="10.5" fill="#fff" stroke="#ff0000" stroke-width="0.95" stroke-linejoin="round"/><rect x="1003.15" y="336.65" width="10.5" height="10.5" fill="#fff" stroke="#ff0000" stroke-width="0.95" stroke-linejoin="round"/><rect x="1012.75" y="320.75" width="10.5" height="10.5" fill="#fff" stroke="#ff0000" stroke-width="0.95" stroke-linejoin="round"/><rect x="1023.15" y="319.35" width="10.5" height="10.5" fill="#fff" stroke="#ff0000" stroke-width="0.95" stroke-linejoin="round"/><rect x="1032.85" y="305.85" width="10.5" height="10.5" fill="#fff" stroke="#ff0000" stroke-width="0.95" stroke-linejoin="round"/><rect x="1037.95" y="304.75" width="10.5" height="10.5" fill="#fff" stroke="#ff0000" stroke-width="0.95" stroke-linejoin="round"/><rect x="1042.75" y="291.95" width="10.5" height="10.5" fill="#fff" stroke="#ff0000" stroke-width="0.95" stroke-linejoin="round"/><rect x="1052.85" y="263.45" width="10.5" height="10.5" fill="#fff" stroke="#ff0000" stroke-width="0.95" stroke-linejoin="round"/><rect x="1062.55" y="252.15" width="10.5" height="10.5" fill="#fff" stroke="#ff0000" stroke-width="0.95" stroke-linejoin="round"/><rect x="1072.25" y="240.65" width="10.5" height="10.5" fill="#fff" stroke="#ff0000" stroke-width="0.95" stroke-linejoin="round"/><rect x="1082.15" y="226.55" width="10.5" height="10.5" fill="#fff" stroke="#ff0000" stroke-width="0.95" stroke-linejoin="round"/><rect x="1087.05" y="218.65" width="10.5" height="10.5" fill="#fff" stroke="#ff0000" stroke-width="0.95" stroke-linejoin="round"/><rect x="1091.85" y="209.95" width="10.5" height="10.5" fill="#fff" stroke="#ff0000" stroke-width="0.95" stroke-linejoin="round"/><rect x="1102.35" y="209.95" width="10.5" height="10.5" fill="#fff" stroke="#ff0000" stroke-width="0.95" stroke-linejoin="round"/><rect x="1112.05" y="219.75" width="10.5" height="10.5" fill="#fff" stroke="#ff0000" stroke-width="0.95" stroke-linejoin="round"/><rect x="1121.95" y="223.65" width="10.5" height="10.5" fill="#fff" stroke="#ff0000" stroke-width="0.95" stroke-linejoin="round"/><rect x="1131.65" y="219.75" width="10.5" height="10.5" fill="#fff" stroke="#ff0000" stroke-width="0.95" stroke-linejoin="round"/><rect x="1136.75" y="216.65" width="10.5" height="10.5" fill="#fff" stroke="#ff0000" stroke-width="0.95" stroke-linejoin="round"/><rect x="1141.45" y="217.75" width="10.5" height="10.5" fill="#fff" stroke="#ff0000" stroke-width="0.95" stroke-linejoin="round"/><rect x="1151.35" y="220.75" width="10.5" height="10.5" fill="#fff" stroke="#ff0000" stroke-width="0.95" stroke-linejoin="round"/><rect x="1161.35" y="214.25" width="10.5" height="10.5" fill="#fff" stroke="#ff0000" stroke-width="0.95" stroke-linejoin="round"/><rect x="1171.15" y="229.05" width="10.5" height="10.5" fill="#fff" stroke="#ff0000" stroke-width="0.95" stroke-linejoin="round"/><rect x="1181.05" y="215.55" width="10.5" height="10.5" fill="#fff" stroke="#ff0000" stroke-width="0.95" stroke-linejoin="round"/><rect x="1186.05" y="221.35" width="10.5" height="10.5" fill="#fff" stroke="#ff0000" stroke-width="0.95" stroke-linejoin="round"/><rect x="1191.15" y="209.65" width="10.5" height="10.5" fill="#fff" stroke="#ff0000" stroke-width="0.95" stroke-linejoin="round"/><rect x="1201.15" y="214.95" width="10.5" height="10.5" fill="#fff" stroke="#ff0000" stroke-width="0.95" stroke-linejoin="round"/><rect x="1211.25" y="214.25" width="10.5" height="10.5" fill="#fff" stroke="#ff0000" stroke-width="0.95" stroke-linejoin="round"/><rect x="1220.45" y="225.75" width="10.5" height="10.5" fill="#fff" stroke="#ff0000" stroke-width="0.95" stroke-linejoin="round"/><rect x="1230.35" y="228.05" width="10.5" height="10.5" fill="#fff" stroke="#ff0000" stroke-width="0.95" stroke-linejoin="round"/><rect x="1235.55" y="221.55" width="10.5" height="10.5" fill="#fff" stroke="#ff0000" stroke-width="0.95" stroke-linejoin="round"/><rect x="1240.55" y="222.85" width="10.5" height="10.5" fill="#fff" stroke="#ff0000" stroke-width="0.95" stroke-linejoin="round"/><rect x="1249.95" y="238.85" width="10.5" height="10.5" fill="#fff" stroke="#ff0000" stroke-width="0.95" stroke-linejoin="round"/><rect x="1259.85" y="244.85" width="10.5" height="10.5" fill="#fff" stroke="#ff0000" stroke-width="0.95" stroke-linejoin="round"/><rect x="1269.25" y="258.35" width="10.5" height="10.5" fill="#fff" stroke="#ff0000" stroke-width="0.95" stroke-linejoin="round"/><rect x="1278.95" y="271.65" width="10.5" height="10.5" fill="#fff" stroke="#ff0000" stroke-width="0.95" stroke-linejoin="round"/><rect x="1284.35" y="279.25" width="10.5" height="10.5" fill="#fff" stroke="#ff0000" stroke-width="0.95" stroke-linejoin="round"/><rect x="1289.05" y="268.55" width="10.5" height="10.5" fill="#fff" stroke="#ff0000" stroke-width="0.95" stroke-linejoin="round"/><rect x="1298.95" y="275.95" width="10.5" height="10.5" fill="#fff" stroke="#ff0000" stroke-width="0.95" stroke-linejoin="round"/><rect x="1308.35" y="283.35" width="10.5" height="10.5" fill="#fff" stroke="#ff0000" stroke-width="0.95" stroke-linejoin="round"/><rect x="1318.35" y="276.35" width="10.5" height="10.5" fill="#fff" stroke="#ff0000" stroke-width="0.95" stroke-linejoin="round"/><rect x="1328.25" y="282.65" width="10.5" height="10.5" fill="#fff" stroke="#ff0000" stroke-width="0.95" stroke-linejoin="round"/><rect x="1332.95" y="288.05" width="10.5" height="10.5" fill="#fff" stroke="#ff0000" stroke-width="0.95" stroke-linejoin="round"/><rect x="1338.35" y="290.75" width="10.5" height="10.5" fill="#fff" stroke="#ff0000" stroke-width="0.95" stroke-linejoin="round"/><rect x="1347.75" y="294.15" width="10.5" height="10.5" fill="#fff" stroke="#ff0000" stroke-width="0.95" stroke-linejoin="round"/><rect x="1357.55" y="301.45" width="10.5" height="10.5" fill="#fff" stroke="#ff0000" stroke-width="0.95" stroke-linejoin="round"/><rect x="1367.45" y="303.35" width="10.5" height="10.5" fill="#fff" stroke="#ff0000" stroke-width="0.95" stroke-linejoin="round"/><rect x="1377.35" y="300.45" width="10.5" height="10.5" fill="#fff" stroke="#ff0000" stroke-width="0.95" stroke-linejoin="round"/><rect x="1382.55" y="300.45" width="10.5" height="10.5" fill="#fff" stroke="#ff0000" stroke-width="0.95" stroke-linejoin="round"/><rect x="1387.35" y="311.35" width="10.5" height="10.5" fill="#fff" stroke="#ff0000" stroke-width="0.95" stroke-linejoin="round"/><rect x="1396.55" y="295.75" width="10.5" height="10.5" fill="#fff" stroke="#ff0000" stroke-width="0.95" stroke-linejoin="round"/><rect x="1406.45" y="313.25" width="10.5" height="10.5" fill="#fff" stroke="#ff0000" stroke-width="0.95" stroke-linejoin="round"/><rect x="1416.45" y="314.65" width="10.5" height="10.5" fill="#fff" stroke="#ff0000" stroke-width="0.95" stroke-linejoin="round"/><rect x="1426.35" y="316.55" width="10.5" height="10.5" fill="#fff" stroke="#ff0000" stroke-width="0.95" stroke-linejoin="round"/><rect x="1431.05" y="314.15" width="10.5" height="10.5" fill="#fff" stroke="#ff0000" stroke-width="0.95" stroke-linejoin="round"/><rect x="1436.25" y="316.55" width="10.5" height="10.5" fill="#fff" stroke="#ff0000" stroke-width="0.95" stroke-linejoin="round"/><rect x="1445.75" y="323.65" width="10.5" height="10.5" fill="#fff" stroke="#ff0000" stroke-width="0.95" stroke-linejoin="round"/><rect x="1455.65" y="326.45" width="10.5" height="10.5" fill="#fff" stroke="#ff0000" stroke-width="0.95" stroke-linejoin="round"/><rect x="1479.95" y="306.55" width="10.5" height="10.5" fill="#fff" stroke="#ff0000" stroke-width="0.95" stroke-linejoin="round"/><rect x="1498.75" y="312.95" width="10.5" height="10.5" fill="#fff" stroke="#ff0000" stroke-width="0.95" stroke-linejoin="round"/></g><text transform="translate(184.85 632.6) scale(1 1.035)" x="0" y="0" font-family='"Liberation Sans", Arial, sans-serif' font-size="31" text-anchor="middle" fill="#000">-2</text><text transform="translate(321.46 632.6) scale(1 1.035)" x="0" y="0" font-family='"Liberation Sans", Arial, sans-serif' font-size="31" text-anchor="middle" fill="#000">-1</text><text transform="translate(458.68 632.6) scale(1 1.035)" x="0" y="0" font-family='"Liberation Sans", Arial, sans-serif' font-size="31" text-anchor="middle" fill="#000">0</text><text transform="translate(595.29 632.6) scale(1 1.035)" x="0" y="0" font-family='"Liberation Sans", Arial, sans-serif' font-size="31" text-anchor="middle" fill="#000">1</text><text transform="translate(731.9 632.6) scale(1 1.035)" x="0" y="0" font-family='"Liberation Sans", Arial, sans-serif' font-size="31" text-anchor="middle" fill="#000">2</text><text transform="translate(169.5 93.35) scale(1 1.035)" x="0" y="0" font-family='"Liberation Sans", Arial, sans-serif' font-size="31" text-anchor="end" fill="#000">15</text><text transform="translate(169.5 177.84) scale(1 1.035)" x="0" y="0" font-family='"Liberation Sans", Arial, sans-serif' font-size="31" text-anchor="end" fill="#000">10</text><text transform="translate(169.5 262.33) scale(1 1.035)" x="0" y="0" font-family='"Liberation Sans", Arial, sans-serif' font-size="31" text-anchor="end" fill="#000">5</text><text transform="translate(169.5 346.82) scale(1 1.035)" x="0" y="0" font-family='"Liberation Sans", Arial, sans-serif' font-size="31" text-anchor="end" fill="#000">0</text><text transform="translate(169.5 431.32) scale(1 1.035)" x="0" y="0" font-family='"Liberation Sans", Arial, sans-serif' font-size="31" text-anchor="end" fill="#000">-5</text><text transform="translate(169.5 515.81) scale(1 1.035)" x="0" y="0" font-family='"Liberation Sans", Arial, sans-serif' font-size="31" text-anchor="end" fill="#000">-10</text><text transform="translate(169.5 600.3) scale(1 1.035)" x="0" y="0" font-family='"Liberation Sans", Arial, sans-serif' font-size="31" text-anchor="end" fill="#000">-15</text><text transform="translate(980.2 632.6) scale(1 1.035)" x="0" y="0" font-family='"Liberation Sans", Arial, sans-serif' font-size="31" text-anchor="middle" fill="#000">-4</text><text transform="translate(1101.6 632.6) scale(1 1.035)" x="0" y="0" font-family='"Liberation Sans", Arial, sans-serif' font-size="31" text-anchor="middle" fill="#000">-2</text><text transform="translate(1223.6 632.6) scale(1 1.035)" x="0" y="0" font-family='"Liberation Sans", Arial, sans-serif' font-size="31" text-anchor="middle" fill="#000">0</text><text transform="translate(1345 632.6) scale(1 1.035)" x="0" y="0" font-family='"Liberation Sans", Arial, sans-serif' font-size="31" text-anchor="middle" fill="#000">2</text><text transform="translate(1466.4 632.6) scale(1 1.035)" x="0" y="0" font-family='"Liberation Sans", Arial, sans-serif' font-size="31" text-anchor="middle" fill="#000">4</text><text transform="translate(934.3 129.56) scale(1 1.035)" x="0" y="0" font-family='"Liberation Sans", Arial, sans-serif' font-size="31" text-anchor="end" fill="#000">6</text><text transform="translate(934.3 201.98) scale(1 1.035)" x="0" y="0" font-family='"Liberation Sans", Arial, sans-serif' font-size="31" text-anchor="end" fill="#000">4</text><text transform="translate(934.3 274.4) scale(1 1.035)" x="0" y="0" font-family='"Liberation Sans", Arial, sans-serif' font-size="31" text-anchor="end" fill="#000">2</text><text transform="translate(934.3 346.82) scale(1 1.035)" x="0" y="0" font-family='"Liberation Sans", Arial, sans-serif' font-size="31" text-anchor="end" fill="#000">0</text><text transform="translate(934.3 419.25) scale(1 1.035)" x="0" y="0" font-family='"Liberation Sans", Arial, sans-serif' font-size="31" text-anchor="end" fill="#000">-2</text><text transform="translate(934.3 491.67) scale(1 1.035)" x="0" y="0" font-family='"Liberation Sans", Arial, sans-serif' font-size="31" text-anchor="end" fill="#000">-4</text><text transform="translate(934.3 564.09) scale(1 1.035)" x="0" y="0" font-family='"Liberation Sans", Arial, sans-serif' font-size="31" text-anchor="end" fill="#000">-6</text><rect x="1.7" y="2.3" width="133" height="67.1" fill="#000"/><text transform="translate(14 54) scale(1 1.035)" x="0" y="0" font-family='"Liberation Sans", Arial, sans-serif' font-size="49" text-anchor="start" fill="#fff">5 nm</text><rect x="783.8" y="5.4" width="166.2" height="69.1" fill="#000"/><text transform="translate(799.2 57.9) scale(1 1.035)" x="0" y="0" font-family='"Liberation Sans", Arial, sans-serif' font-size="50" text-anchor="start" fill="#fff">10 nm</text><text transform="translate(27.7 134.1) scale(1.06 1)" x="0" y="0" font-family='"Liberation Sans", Arial, sans-serif' font-size="49.5" fill="#000">(a)</text><text transform="translate(806.1 140.2) scale(1.06 1)" x="0" y="0" font-family='"Liberation Sans", Arial, sans-serif' font-size="49.5" fill="#000">(b)</text><path d="M770.3 642.7V29.35A3.15 3.15 0 0 1 776.6 29.35V642.7Z" fill="#000"/><text transform="translate(367.6 700.7) scale(1 1.035)" x="0" y="0" font-family='"Liberation Sans", Arial, sans-serif' font-size="41.7" fill="#000">H(kA.m<tspan dx="6.4" dy="-22.6" font-size="25">-1</tspan><tspan dx="2.9" dy="22.6" font-size="41.7">)</tspan></text><text transform="translate(1131 700.7) scale(1 1.035)" x="0" y="0" font-family='"Liberation Sans", Arial, sans-serif' font-size="41.7" fill="#000">H(kA.m<tspan dx="6.4" dy="-22.6" font-size="25">-1</tspan><tspan dx="2.9" dy="22.6" font-size="41.7">)</tspan></text><g transform="translate(90.9 512.2) rotate(-90)"><text x="-2.1" y="0" font-family='"DejaVu Serif", "Liberation Serif", serif' font-size="42" text-anchor="start" fill="#000">α</text><text transform="translate(36 -28.5) scale(1 1.035)" x="0" y="0" font-family='"Liberation Sans", Arial, sans-serif' font-size="30.5" text-anchor="start" fill="#000">410nm</text><text transform="translate(35.7 19.3) scale(1 1.035)" x="0" y="0" font-family='"Liberation Sans", Arial, sans-serif' font-size="30.3" text-anchor="start" fill="#000">CMP</text><text transform="translate(129.3 -0.4) scale(1 1.035)" x="0" y="0" font-family='"Liberation Sans", Arial, sans-serif' font-size="42" text-anchor="start" fill="#000">(10</text><text transform="translate(190.7 -23.7) scale(1 1.035)" x="0" y="0" font-family='"Liberation Sans", Arial, sans-serif' font-size="26" text-anchor="start" fill="#000">-5</text><text transform="translate(235.9 -0.4) scale(1 1.035)" x="0" y="0" font-family='"Liberation Sans", Arial, sans-serif' font-size="42" text-anchor="start" fill="#000">s.A</text><text transform="translate(296.6 -23.7) scale(1 1.035)" x="0" y="0" font-family='"Liberation Sans", Arial, sans-serif' font-size="26" text-anchor="start" fill="#000">-1</text><text transform="translate(320.4 -0.4) scale(1 1.035)" x="0" y="0" font-family='"Liberation Sans", Arial, sans-serif' font-size="42" text-anchor="start" fill="#000">)</text></g><g transform="translate(868.7 528.4) rotate(-90)"><text x="-2.1" y="0" font-family='"DejaVu Serif", "Liberation Serif", serif' font-size="42" text-anchor="start" fill="#000">α</text><text transform="translate(36 -28.5) scale(1 1.035)" x="0" y="0" font-family='"Liberation Sans", Arial, sans-serif' font-size="30.5" text-anchor="start" fill="#000">410nm</text><text transform="translate(35.7 19.3) scale(1 1.035)" x="0" y="0" font-family='"Liberation Sans", Arial, sans-serif' font-size="30.3" text-anchor="start" fill="#000">CMP</text><text transform="translate(129.3 -0.4) scale(1 1.035)" x="0" y="0" font-family='"Liberation Sans", Arial, sans-serif' font-size="42" text-anchor="start" fill="#000">(10</text><text transform="translate(190.7 -23.7) scale(1 1.035)" x="0" y="0" font-family='"Liberation Sans", Arial, sans-serif' font-size="26" text-anchor="start" fill="#000">-5</text><text transform="translate(235.9 -0.4) scale(1 1.035)" x="0" y="0" font-family='"Liberation Sans", Arial, sans-serif' font-size="42" text-anchor="start" fill="#000">s.A</text><text transform="translate(296.6 -23.7) scale(1 1.035)" x="0" y="0" font-family='"Liberation Sans", Arial, sans-serif' font-size="26" text-anchor="start" fill="#000">-1</text><text transform="translate(320.4 -0.4) scale(1 1.035)" x="0" y="0" font-family='"Liberation Sans", Arial, sans-serif' font-size="42" text-anchor="start" fill="#000">)</text></g><path d="M699.6 676.3H759.6" stroke="#1818ff" stroke-width="0.95"/><rect x="720.1" y="666.7" width="18.8" height="18.8" fill="#0000ff"/><text x="770.6" y="686" font-family='"Liberation Serif", "Times New Roman", serif' font-size="34.3" fill="#000">φ <tspan dy="2.2">=</tspan><tspan dy="-2.2"> 0°</tspan></text><path d="M699.6 723.2H759.6" stroke="#ff0000" stroke-width="0.95"/><rect x="720.9" y="714.6" width="17.4" height="17.4" fill="#fff" stroke="#ff0000" stroke-width="1.2"/><text x="768.6" y="732.7" font-family='"Liberation Serif", "Times New Roman", serif' font-size="34.3" fill="#000">φ <tspan dy="2.2">=</tspan><tspan dy="-2.2"> 75°</tspan></text><text transform="translate(280.99 196.79) scale(1.11 1)" x="0" y="0" font-family='"DejaVu Serif", "Liberation Serif", serif' font-size="30.8" fill="#ff0000" stroke="#ff0000" stroke-width="0.8" stroke-linejoin="round">α</text><text x="304.32" y="212.9" font-family='"Liberation Sans", Arial, sans-serif' font-size="24.4" text-anchor="start" fill="#ff0000" font-weight="bold">ext</text><text transform="translate(318.3 174.65) scale(1.1 1)" x="0" y="0" font-family='"DejaVu Serif", "Liberation Serif", serif' font-size="26.5" text-anchor="middle" fill="#ff0000" stroke="#ff0000" stroke-width="0.3">↓</text><path d="M329.7 224.1L367.9 242.1" stroke="#ff0000" stroke-width="3.3" stroke-linecap="round" fill="none"/><path d="M381.7 249.4L368.6 237.66L364.3 245.01Z" fill="#ff0000" stroke="#ff0000" stroke-width="3.4" stroke-linejoin="round"/><text transform="translate(529.39 129.89) scale(1.11 1)" x="0" y="0" font-family='"DejaVu Serif", "Liberation Serif", serif' font-size="30.8" fill="#0000ff" stroke="#0000ff" stroke-width="0.8" stroke-linejoin="round">α</text><text x="552.72" y="145.6" font-family='"Liberation Sans", Arial, sans-serif' font-size="24.4" text-anchor="start" fill="#0000ff" font-weight="bold">ext</text><text transform="translate(567 107.85) scale(1.1 1)" x="0" y="0" font-family='"DejaVu Serif", "Liberation Serif", serif' font-size="26.5" text-anchor="middle" fill="#0000ff" stroke="#0000ff" stroke-width="0.3">↑</text><path d="M577.6 110.9L622.05 102.49" stroke="#0000ff" stroke-width="3.3" stroke-linecap="round" fill="none"/><path d="M638.73 99.32L619.63 97.92L621.24 107.67Z" fill="#0000ff" stroke="#0000ff" stroke-width="3.4" stroke-linejoin="round"/><text transform="translate(347.79 563.39) scale(1.11 1)" x="0" y="0" font-family='"DejaVu Serif", "Liberation Serif", serif' font-size="30.8" fill="#0000ff" stroke="#0000ff" stroke-width="0.8" stroke-linejoin="round">α</text><text x="371.02" y="579.4" font-family='"Liberation Sans", Arial, sans-serif' font-size="24.4" text-anchor="start" fill="#0000ff" font-weight="bold">ext</text><text transform="translate(384.8 541.65) scale(1.1 1)" x="0" y="0" font-family='"DejaVu Serif", "Liberation Serif", serif' font-size="26.5" text-anchor="middle" fill="#0000ff" stroke="#0000ff" stroke-width="0.3">↓</text><path d="M346.4 559.4L300.88 567.24" stroke="#0000ff" stroke-width="3.3" stroke-linecap="round" fill="none"/><path d="M284.58 569.65L301.98 562.08L303.03 571.92Z" fill="#0000ff" stroke="#0000ff" stroke-width="3.4" stroke-linejoin="round"/><text transform="translate(611.69 477.59) scale(1.11 1)" x="0" y="0" font-family='"DejaVu Serif", "Liberation Serif", serif' font-size="30.8" fill="#ff0000" stroke="#ff0000" stroke-width="0.8" stroke-linejoin="round">α</text><text x="634.92" y="493.5" font-family='"Liberation Sans", Arial, sans-serif' font-size="24.4" text-anchor="start" fill="#ff0000" font-weight="bold">ext</text><text transform="translate(648.7 455.45) scale(1.1 1)" x="0" y="0" font-family='"DejaVu Serif", "Liberation Serif", serif' font-size="26.5" text-anchor="middle" fill="#ff0000" stroke="#ff0000" stroke-width="0.3">↑</text><path d="M607.6 455.3L567.02 430.71" stroke="#ff0000" stroke-width="3.3" stroke-linecap="round" fill="none"/><path d="M553 421.16L571.34 427.87L565.41 435.4Z" fill="#ff0000" stroke="#ff0000" stroke-width="3.4" stroke-linejoin="round"/><text transform="translate(1146.19 155.29) scale(1.11 1)" x="0" y="0" font-family='"DejaVu Serif", "Liberation Serif", serif' font-size="30.8" fill="#ff0000" stroke="#ff0000" stroke-width="0.8" stroke-linejoin="round">α</text><text x="1176.22" y="171.3" font-family='"Liberation Sans", Arial, sans-serif' font-size="24.4" text-anchor="start" fill="#ff0000" font-weight="bold">ext</text><text transform="translate(1183.3 133.55) scale(1.1 1)" x="0" y="0" font-family='"DejaVu Serif", "Liberation Serif", serif' font-size="26.5" text-anchor="middle" fill="#ff0000" stroke="#ff0000" stroke-width="0.3">↓</text><path d="M1147.5 162.3L1118.67 190.46" stroke="#ff0000" stroke-width="3.3" stroke-linecap="round" fill="none"/><path d="M1107.41 201.6L1116.31 186.06L1123.36 192.55Z" fill="#ff0000" stroke="#ff0000" stroke-width="3.4" stroke-linejoin="round"/><text transform="translate(1277.99 132.99) scale(1.11 1)" x="0" y="0" font-family='"DejaVu Serif", "Liberation Serif", serif' font-size="30.8" fill="#0000ff" stroke="#0000ff" stroke-width="0.8" stroke-linejoin="round">α</text><text x="1307.62" y="149.2" font-family='"Liberation Sans", Arial, sans-serif' font-size="24.4" text-anchor="start" fill="#0000ff" font-weight="bold">ext</text><text transform="translate(1315 111.85) scale(1.1 1)" x="0" y="0" font-family='"DejaVu Serif", "Liberation Serif", serif' font-size="26.5" text-anchor="middle" fill="#0000ff" stroke="#0000ff" stroke-width="0.3">↑</text><path d="M1324.5 117.4L1365.15 109.73" stroke="#0000ff" stroke-width="3.3" stroke-linecap="round" fill="none"/><path d="M1381.13 106.9L1362.74 105.24L1364.34 114.79Z" fill="#0000ff" stroke="#0000ff" stroke-width="3.4" stroke-linejoin="round"/><text transform="translate(1112.89 539.29) scale(1.11 1)" x="0" y="0" font-family='"DejaVu Serif", "Liberation Serif", serif' font-size="30.8" fill="#0000ff" stroke="#0000ff" stroke-width="0.8" stroke-linejoin="round">α</text><text x="1142.62" y="555.8" font-family='"Liberation Sans", Arial, sans-serif' font-size="24.4" text-anchor="start" fill="#0000ff" font-weight="bold">ext</text><text transform="translate(1143.1 518.05) scale(1.1 1)" x="0" y="0" font-family='"DejaVu Serif", "Liberation Serif", serif' font-size="26.5" text-anchor="middle" fill="#0000ff" stroke="#0000ff" stroke-width="0.3">↓</text><path d="M1108.8 541L1071.54 549.52" stroke="#0000ff" stroke-width="3.3" stroke-linecap="round" fill="none"/><path d="M1055.85 553.39L1072.07 544.88L1074.19 553.37Z" fill="#0000ff" stroke="#0000ff" stroke-width="3.4" stroke-linejoin="round"/><text transform="translate(1255.39 552.19) scale(1.11 1)" x="0" y="0" font-family='"DejaVu Serif", "Liberation Serif", serif' font-size="30.8" fill="#ff0000" stroke="#ff0000" stroke-width="0.8" stroke-linejoin="round">α</text><text x="1278.42" y="568.4" font-family='"Liberation Sans", Arial, sans-serif' font-size="24.4" text-anchor="start" fill="#ff0000" font-weight="bold">ext</text><text transform="translate(1293 530.75) scale(1.1 1)" x="0" y="0" font-family='"DejaVu Serif", "Liberation Serif", serif' font-size="26.5" text-anchor="middle" fill="#ff0000" stroke="#ff0000" stroke-width="0.3">↑</text><path d="M1305 542.5L1319.76 518.67" stroke="#ff0000" stroke-width="3.3" stroke-linecap="round" fill="none"/><path d="M1328.39 505.04L1314.88 517.91L1322.88 522.19Z" fill="#ff0000" stroke="#ff0000" stroke-width="3.4" stroke-linejoin="round"/></svg></body></html>
